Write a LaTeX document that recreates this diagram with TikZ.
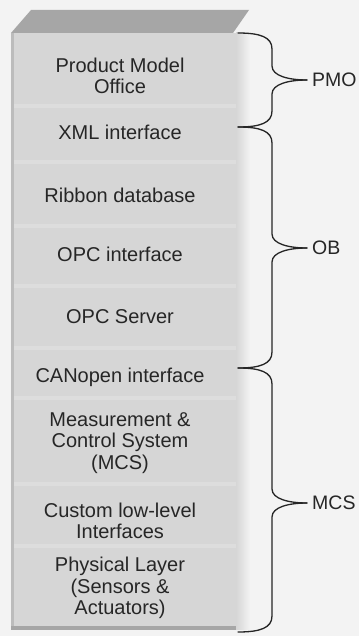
\documentclass[tikz,border=0pt]{standalone}
\usepackage{fontspec}
\setmainfont{Liberation Sans}
\definecolor{bgc}{HTML}{F3F3F3}
\definecolor{bodyc}{HTML}{D6D6D6}
\definecolor{topc}{HTML}{A6A6A6}
\definecolor{sepc}{HTML}{DDDDDD}
\definecolor{inkc}{HTML}{262626}
\begin{document}
\begin{tikzpicture}[x=1pt,y=-1pt,
  layer/.style={align=center,text=inkc,font=\fontsize{20}{21.5}\selectfont,inner sep=0pt},
  glabel/.style={anchor=west,text=inkc,font=\fontsize{19.5}{22}\selectfont,inner sep=0pt},
  bracepath/.style={draw=inkc,line width=1.3pt,line cap=round}]
\fill[bgc] (0,0) rectangle (359,636);
\useasboundingbox (0,0) rectangle (359,636);
% box body
\fill[bodyc] (11,33) rectangle (236,629);
\shade[left color=bodyc,right color=bgc] (236,33) rectangle (250,629);
\fill[bodyc!88!black] (11,33) rectangle (14,629);
% layer separators
\foreach \yy in {106,162,226,286,348,398,484,546}
  \fill[sepc] (14,\yy-2) rectangle (236,\yy+2);
% top face
\fill[topc] (11,33) -- (31,10) -- (249,10) -- (233,33) -- cycle;
% bottom edge
\fill[topc] (11,626) rectangle (236,630);
% layers
\node[layer] (pmoL) at (120,76) {Product Model\\Office};
\node[layer] (xml) at (120,132) {XML interface};
\node[layer] (rib) at (120,195) {Ribbon database};
\node[layer] (opci) at (120,254) {OPC interface};
\node[layer] (opcs) at (120,317) {OPC Server};
\node[layer] (can) at (120,377) {CANopen interface};
\node[layer] (mcsL) at (120,443) {Measurement \&\\Control System\\(MCS)};
\node[layer] (cust) at (120,521) {Custom low-level\\Interfaces};
\node[layer] (phys) at (120,588) {Physical Layer\\(Sensors \&\\Actuators)};
% group labels
\node[glabel] (pmo) at (312,80) {PMO};
\node[glabel] (ob) at (312,248) {OB};
\node[glabel] (mcs) at (312,503) {MCS};
% brace end points
\coordinate (b0) at (238,33);
\coordinate (b1) at (238,127);
\coordinate (b2) at (238,368);
\coordinate (b3) at (238,632);
\coordinate (t0) at (307,80);
\coordinate (t1) at (307,248);
\coordinate (t2) at (307,503);
% braces
\draw[bracepath] (b0) .. controls +(22,0) and +(0,-12) .. (272,49)
  -- (272,66) .. controls +(0,10) and +(-18,0) .. (t0);
\draw[bracepath] (t0) .. controls +(-18,0) and +(0,-10) .. (272,94)
  -- (272,111) .. controls +(0,12) and +(22,0) .. (b1);
\draw[bracepath] (b1) .. controls +(22,0) and +(0,-12) .. (272,143)
  -- (272,234) .. controls +(0,10) and +(-18,0) .. (t1);
\draw[bracepath] (t1) .. controls +(-18,0) and +(0,-10) .. (272,262)
  -- (272,352) .. controls +(0,12) and +(22,0) .. (b2);
\draw[bracepath] (b2) .. controls +(22,0) and +(0,-12) .. (272,384)
  -- (272,489) .. controls +(0,10) and +(-18,0) .. (t2);
\draw[bracepath] (t2) .. controls +(-18,0) and +(0,-10) .. (272,517)
  -- (272,616) .. controls +(0,12) and +(22,0) .. (b3);
\end{tikzpicture}
\end{document}
